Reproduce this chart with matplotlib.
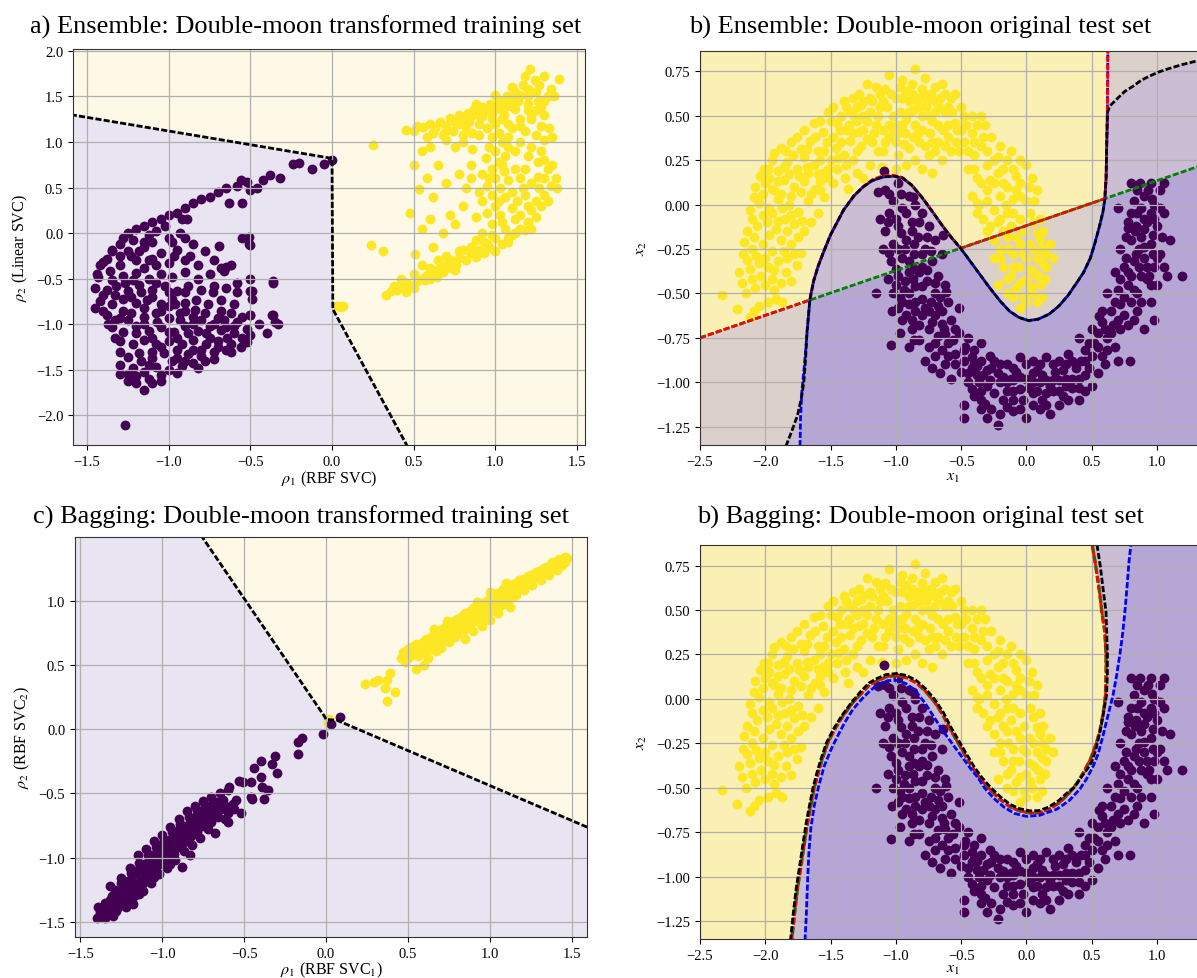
import numpy as np
import matplotlib
matplotlib.use("Agg")
import matplotlib.pyplot as plt
from matplotlib.path import Path
from matplotlib.colors import ListedColormap

# ---------------------------------------------------------------- data
# a) ensemble: transformed training set (rho1 = RBF SVC, rho2 = linear SVC)
a_class0 = [
    (-1.44,-0.45),(-1.42,-0.35),(-1.38,-0.28),(-1.35,-0.2),(-1.3,-0.12),(-1.28,-0.05),(-1.25,0.0),(-1.2,0.04),
    (-1.15,0.08),(-1.1,0.12),(-1.05,0.16),(-1.0,0.2),(-0.95,0.22),(-0.9,0.28),(-0.85,0.33),(-0.8,0.37),
    (-0.75,0.4),(-0.7,0.45),(-0.65,0.5),(-0.58,0.52),(-0.56,0.58),(-0.52,0.56),(-0.5,0.47),(-0.46,0.5),
    (-0.42,0.58),(-0.38,0.64),(-0.32,0.6),(-0.24,0.76),(-0.2,0.77),(-0.12,0.7),(-0.05,0.76),(0.0,0.8),
    (-0.55,0.33),(-0.92,0.15),(-1.02,0.08),(-1.12,-0.02),(-1.22,-0.08),(-1.3,-0.25),(-0.89,0.15),(-0.93,0.0),
    (-0.98,-0.1),(-1.0,-0.05),(-0.9,-0.05),(-1.15,-0.1),(-1.08,0.02),(-0.63,0.33),(-0.69,-0.14),(-0.51,-0.04),
    (-0.51,-0.12),
    (-1.35,-0.18),(-1.25,-0.2),(-1.15,-0.15),(-1.05,-0.22),(-0.95,-0.18),(-0.85,-0.12),(-0.78,-0.2),(-1.1,-0.1),
    (-1.4,-0.32),(-1.3,-0.35),(-1.2,-0.3),(-1.1,-0.28),(-1.0,-0.33),(-0.9,-0.3),(-0.82,-0.35),(-0.72,-0.3),(-1.15,-0.38),
    (-1.43,-0.48),(-1.36,-0.42),(-1.28,-0.47),(-1.2,-0.44),(-1.12,-0.5),(-1.05,-0.45),(-0.98,-0.48),(-0.9,-0.43),
    (-0.82,-0.5),(-0.75,-0.45),(-0.68,-0.38),(-0.66,-0.42),
    (-1.45,-0.6),(-1.38,-0.62),(-1.32,-0.58),(-1.25,-0.63),(-1.18,-0.57),(-1.1,-0.62),(-1.02,-0.58),(-0.95,-0.63),
    (-0.88,-0.58),(-0.8,-0.62),(-0.72,-0.58),(-0.65,-0.6),(-0.58,-0.55),(-0.5,-0.5),(-0.36,-0.53),
    (-1.42,-0.75),(-1.35,-0.78),(-1.28,-0.72),(-1.2,-0.77),(-1.13,-0.73),(-1.05,-0.78),(-0.98,-0.72),(-0.9,-0.77),
    (-0.83,-0.73),(-0.76,-0.78),(-0.68,-0.73),(-0.6,-0.78),(-0.5,-0.64),(-0.49,-0.72),(-1.4,-0.85),
    (-1.38,-0.9),(-1.3,-0.93),(-1.23,-0.88),(-1.15,-0.92),(-1.08,-0.88),(-1.0,-0.93),(-0.93,-0.88),(-0.85,-0.92),
    (-0.78,-0.88),(-0.7,-0.93),(-0.62,-0.88),(-0.55,-0.92),(-0.5,-0.9),(-0.37,-0.9),(-1.45,-0.82),
    (-1.35,-1.03),(-1.28,-1.08),(-1.2,-1.02),(-1.12,-1.07),(-1.05,-1.03),(-0.97,-1.08),(-0.9,-1.02),(-0.82,-1.07),
    (-0.75,-1.02),(-0.68,-1.06),(-0.6,-1.02),(-0.52,-1.05),(-0.45,-1.0),(-0.35,-0.98),(-0.33,-1.0),(-0.5,-1.12),
    (-1.3,-1.18),(-1.22,-1.22),(-1.15,-1.17),(-1.08,-1.22),(-1.0,-1.18),(-0.92,-1.22),(-0.85,-1.17),(-0.77,-1.22),
    (-0.7,-1.18),(-0.62,-1.22),(-0.55,-1.15),(-0.4,-1.1),
    (-1.3,-1.3),(-1.25,-1.36),(-1.18,-1.32),(-1.1,-1.37),(-1.03,-1.32),(-0.95,-1.37),(-0.88,-1.33),(-0.8,-1.35),
    (-0.72,-1.3),(-0.65,-1.28),(-1.3,-1.45),
    (-1.22,-1.48),(-1.15,-1.52),(-1.08,-1.47),(-1.0,-1.5),(-0.92,-1.46),(-0.85,-1.42),(-0.78,-1.4),(-1.25,-1.55),
    (-1.12,-1.6),(-1.05,-1.56),(-0.95,-1.53),
    (-1.2,-1.65),(-1.15,-1.72),(-1.1,-1.65),(-1.25,-1.62),(-1.05,-1.62),
    (-1.25,-0.95),(-1.0,-0.8),(-0.95,-1.15),(-1.1,-1.3),(-0.85,-1.0),(-1.17,-0.65),(-0.75,-1.15),(-1.33,-1.15),
    (-0.68,-0.85),(-1.07,-0.97),(-0.9,-0.65),(-0.8,-1.28),(-1.22,-0.52),(-0.98,-1.4),(-0.6,-1.1),(-0.7,-1.25),
    (-0.62,-0.35),(-0.65,-0.37),(-0.49,-0.63),(-0.5,-0.9),(-0.36,-0.55),(-0.36,-0.9),(-0.5,-0.13),(-0.55,-0.05),
    (-1.33,-0.68),(-1.27,-0.55),(-1.23,-0.7),(-1.15,-0.82),(-1.1,-0.7),(-1.08,-0.55),(-1.0,-0.65),(-0.96,-0.78),
    (-0.93,-0.95),(-0.88,-1.1),(-0.84,-0.84),(-0.8,-0.95),(-0.77,-1.1),(-0.72,-1.0),(-0.66,-0.95),(-0.64,-1.15),
    (-0.58,-0.98),(-0.56,-1.25),(-0.52,-1.2),(-1.2,-1.1),(-1.15,-1.0),(-1.1,-1.15),(-1.05,-1.25),(-1.0,-1.08),
    (-0.95,-1.28),(-0.9,-1.4),(-0.85,-1.28),(-0.82,-1.48),(-1.17,-1.4),(-1.12,-1.45),(-1.2,-1.57),(-1.3,-1.55),
    (-1.23,-0.25),(-1.18,-0.2),(-1.08,-0.35),(-0.97,-0.25),(-0.87,-0.25),(-1.35,-0.52),(-1.4,-0.68),(-1.37,-1.0),
    (-1.28,-0.85),(-1.33,-0.95),(-1.05,-0.85),(-0.9,-0.85),(-0.73,-0.65),(-0.58,-0.65),(-0.62,-1.3),(-0.72,-1.38),
    (-0.65,-1.03),(-1.12,-0.3),
    (-1.27,-2.11),
]
a_class1 = [
    (0.45,1.13),(0.5,1.12),(0.52,1.18),(0.56,1.16),(0.6,1.2),(0.63,1.15),(0.66,1.22),(0.7,1.18),(0.72,1.26),
    (0.75,1.22),(0.78,1.3),(0.8,1.25),(0.83,1.32),(0.85,1.28),(0.87,1.36),(0.9,1.3),(0.92,1.38),(0.95,1.34),
    (0.97,1.42),(1.0,1.38),(1.02,1.46),(1.05,1.42),(1.07,1.5),(1.1,1.46),(1.12,1.55),(1.15,1.52),(1.17,1.62),
    (1.2,1.58),(1.18,1.72),(1.21,1.8),(1.24,1.68),(1.27,1.62),(1.3,1.72),(1.34,1.58),(1.39,1.69),(1.32,1.5),
    (1.36,1.5),(0.74,1.12),(0.82,1.15),(0.9,1.2),(0.98,1.25),(1.05,1.3),(1.12,1.36),(1.2,1.42),(1.26,1.45),
    (0.68,1.08),(0.58,1.05),(0.88,1.42),(1.0,1.52),(1.1,1.6),
    (1.25,1.35),(1.3,1.3),(1.22,1.25),(1.28,1.18),(1.33,1.15),(1.25,1.08),(1.3,1.02),(1.35,1.05),(1.22,0.95),
    (1.28,0.9),(1.2,0.85),(1.26,0.78),(1.32,0.7),(1.37,0.6),(1.34,0.52),(1.38,0.5),(1.3,0.6),(1.27,0.5),
    (1.3,0.42),(1.25,0.35),(1.28,0.3),(1.22,0.25),(1.25,0.18),(1.2,0.12),(1.22,0.05),(1.18,0.03),(1.15,0.2),
    (1.18,0.42),(1.22,0.55),(1.18,0.7),(1.15,1.0),(1.18,1.12),(1.15,1.25),(1.2,1.35),(1.12,0.9),
    (1.0,1.2),(1.02,1.1),(0.98,1.05),(1.04,1.0),(0.96,0.95),(1.0,0.9),(1.06,0.85),(0.94,0.82),(1.02,0.78),
    (0.98,0.7),(1.05,0.68),(0.92,0.65),(1.0,0.6),(1.08,0.58),(0.95,0.52),(1.03,0.5),(0.9,0.45),(0.98,0.42),
    (1.06,0.4),(0.92,0.35),(1.0,0.3),(1.1,0.28),(0.95,0.22),(1.03,0.2),(0.88,0.18),(1.12,0.15),(0.98,0.1),
    (1.06,0.05),(0.92,0.0),(1.0,-0.05),(1.1,-0.02),(0.95,-0.12),(1.08,-0.1),(0.88,-0.08),(1.1,1.15),(1.08,1.05),
    (1.12,0.7),(1.1,0.45),(0.86,0.92),(0.9,1.08),(0.85,0.75),(0.82,0.5),(0.8,0.3),(0.85,0.6),(1.15,0.6),
    (0.33,-0.68),(0.36,-0.64),(0.4,-0.62),(0.43,-0.58),(0.46,-0.55),(0.5,-0.6),(0.52,-0.53),(0.55,-0.5),
    (0.58,-0.46),(0.6,-0.5),(0.63,-0.42),(0.66,-0.38),(0.68,-0.43),(0.7,-0.35),(0.73,-0.3),(0.76,-0.35),
    (0.78,-0.27),(0.82,-0.3),(0.85,-0.22),(0.88,-0.26),(0.9,-0.18),(0.93,-0.22),(0.96,-0.15),(1.0,-0.2),
    (1.04,-0.12),(1.08,-0.05),(1.12,0.0),(1.15,0.05),(0.42,-0.5),(0.5,-0.45),(0.6,-0.38),(0.7,-0.25),
    (0.8,-0.18),(0.75,-0.4),(0.65,-0.3),(0.55,-0.35),(0.45,-0.65),(0.38,-0.58),
    (0.25,0.97),(0.24,-0.13),(0.31,-0.2),(0.03,-0.8),(0.05,-0.81),(0.07,-0.8),(0.5,0.75),(0.53,0.48),
    (0.48,0.22),(0.51,-0.23),(0.58,0.6),(0.62,0.4),(0.65,0.75),(0.7,0.55),(0.72,0.2),(0.6,0.15),(0.68,0.0),
    (0.75,0.95),(0.6,0.95),(0.8,1.0),(0.55,0.9),(0.7,1.02),(0.78,0.65),(0.75,0.1),(0.62,-0.15),(0.55,0.05),
    (0.62,1.1),(0.7,1.12),(0.77,1.2),(0.84,1.22),(0.92,1.28),(0.98,1.32),(1.03,1.36),(1.08,1.4),(1.14,1.45),
    (1.2,1.5),(1.25,1.55),(1.3,1.45),(1.28,1.38),(1.22,1.3),(1.15,1.18),(1.08,1.2),(1.04,1.25),(0.95,1.15),
    (0.86,1.1),(0.8,1.08),(1.3,0.8),(1.35,0.75),(1.32,0.35),(1.26,0.62),(1.2,0.3),(1.17,0.5),(1.13,0.35),
    (1.04,0.12),(0.98,-0.02),(0.93,-0.1),(0.85,-0.15),(0.78,-0.2),(0.72,-0.38),(0.64,-0.48),(0.57,-0.52),
    (0.48,-0.58),(1.02,0.35),(0.96,0.6),(1.04,0.75),(1.08,0.95),
]
a_boundary_x = [-1.65, 0.0, 0.005, 0.48]
a_boundary_y = [1.315, 0.82, -0.835, -2.40]

# c) bagging: transformed training set (rho1 = RBF SVC1, rho2 = RBF SVC2)
c_class0 = [
    (-1.4,-1.47),(-1.39,-1.38),(-1.38,-1.44),(-1.37,-1.46),(-1.36,-1.4),(-1.35,-1.35),(-1.34,-1.44),(-1.33,-1.38),
    (-1.32,-1.22),(-1.31,-1.3),(-1.3,-1.36),(-1.29,-1.25),(-1.28,-1.41),(-1.27,-1.33),(-1.26,-1.27),(-1.25,-1.2),
    (-1.24,-1.33),(-1.23,-1.24),(-1.22,-1.38),(-1.25,-1.16),(-1.21,-1.18),(-1.2,-1.27),(-1.19,-1.12),(-1.18,-1.22),
    (-1.17,-1.3),(-1.2,-1.08),(-1.16,-1.1),(-1.15,-1.2),(-1.14,-1.04),(-1.13,-1.15),(-1.12,-1.26),(-1.15,-0.98),
    (-1.11,-1.05),(-1.1,-1.13),(-1.09,-0.98),(-1.08,-1.09),(-1.07,-1.2),(-1.1,-0.93),(-1.06,-0.98),(-1.05,-1.07),
    (-1.04,-0.92),(-1.03,-1.02),(-1.02,-1.13),(-1.05,-0.87),(-1.01,-0.93),(-1.0,-1.0),(-0.99,-0.86),(-0.98,-0.96),
    (-0.97,-1.08),(-1.0,-0.82),(-0.96,-0.86),(-0.95,-0.95),(-0.94,-0.8),(-0.93,-0.9),(-0.92,-1.02),(-0.95,-0.76),
    (-0.91,-0.8),(-0.9,-0.88),(-0.89,-0.74),(-0.88,-0.84),(-0.87,-0.95),(-0.9,-0.7),(-0.88,-1.07),(-0.86,-0.75),
    (-0.85,-0.83),(-0.84,-0.68),(-0.83,-0.79),(-0.82,-0.9),(-0.85,-0.64),(-0.81,-0.7),(-0.8,-0.77),(-0.79,-0.63),
    (-0.78,-0.73),(-0.77,-0.85),(-0.8,-0.6),(-0.76,-0.65),(-0.75,-0.72),(-0.74,-0.6),(-0.73,-0.68),(-0.72,-0.78),
    (-0.75,-0.56),(-0.71,-0.6),(-0.7,-0.66),(-0.69,-0.56),(-0.68,-0.65),(-0.68,-0.81),(-0.7,-0.53),(-0.66,-0.57),
    (-0.64,-0.62),(-0.63,-0.55),(-0.62,-0.7),(-0.6,-0.72),(-0.65,-0.5),(-0.6,-0.47),(-0.58,-0.6),(-0.57,-0.58),
    (-0.52,-0.65),(-1.32,-1.42),(-1.18,-1.36),(-1.05,-1.15),(-0.95,-1.05),(-0.83,-0.98),(-1.3,-1.45),(-1.35,-1.47),
    (-1.02,-0.9),(-0.9,-0.78),(-0.96,-0.92),
    (-1.38,-1.42),(-1.36,-1.45),(-1.34,-1.36),(-1.32,-1.33),(-1.3,-1.4),(-1.28,-1.3),(-1.27,-1.38),(-1.25,-1.3),
    (-1.24,-1.22),(-1.22,-1.28),(-1.21,-1.33),(-1.19,-1.17),(-1.18,-1.26),(-1.16,-1.22),(-1.15,-1.13),(-1.14,-1.28),
    (-1.13,-1.08),(-1.12,-1.2),(-1.1,-1.07),(-1.09,-1.16),(-1.08,-1.02),(-1.07,-1.12),(-1.06,-1.05),(-1.04,-1.1),
    (-1.03,-0.97),(-1.01,-1.05),(-1.0,-0.9),(-0.99,-1.02),(-0.97,-0.92),(-0.96,-1.0),(-0.94,-0.87),(-0.93,-0.97),
    (-0.91,-0.84),(-0.9,-0.92),(-0.89,-0.8),(-0.87,-0.88),(-0.86,-0.79),(-0.84,-0.86),(-0.83,-0.73),(-0.82,-0.82),
    (-0.8,-0.68),(-0.79,-0.8),(-0.77,-0.67),(-0.76,-0.75),(-0.74,-0.64),(-0.73,-0.74),(-0.71,-0.63),(-0.7,-0.72),
    (-0.67,-0.6),(-0.66,-0.68),(-0.62,-0.6),(-0.6,-0.65),(-0.56,-0.62),(-0.55,-0.55),
    (-0.59,-0.45),(-0.53,-0.4),(-0.51,-0.41),(-0.46,-0.41),(-0.46,-0.53),(-0.44,-0.3),(-0.4,-0.375),(-0.39,-0.45),
    (-0.38,-0.545),(-0.45,-0.545),(-0.355,-0.47),(-0.4,-0.25),(-0.33,-0.27),(-0.31,-0.21),(-0.3,-0.34),
    (-0.17,-0.1),(-0.145,-0.065),(-0.17,-0.195),(-0.016,-0.034),(0.03,0.04),(0.084,0.095),
]
c_class1 = [
    (0.46,0.55),(0.47,0.6),(0.48,0.52),(0.5,0.62),(0.51,0.57),(0.52,0.64),(0.54,0.6),(0.55,0.66),(0.56,0.63),
    (0.57,0.58),(0.59,0.68),(0.6,0.64),(0.61,0.7),(0.62,0.62),(0.64,0.72),(0.65,0.68),(0.66,0.74),(0.67,0.65),
    (0.69,0.76),(0.7,0.72),(0.71,0.78),(0.72,0.69),(0.73,0.8),(0.74,0.75),(0.75,0.82),(0.76,0.78),(0.77,0.73),
    (0.78,0.84),(0.79,0.8),(0.8,0.86),(0.81,0.77),(0.82,0.83),(0.83,0.88),(0.84,0.84),(0.85,0.9),(0.86,0.8),
    (0.87,0.87),(0.88,0.92),(0.89,0.88),(0.9,0.94),(0.91,0.84),(0.92,0.9),(0.93,0.96),(0.94,0.92),(0.95,0.98),
    (0.96,0.88),(0.97,0.95),(0.98,1.0),(0.99,0.96),(1.0,1.02),(1.01,0.92),(1.02,0.99),(1.03,1.05),(1.04,1.0),
    (1.05,1.06),(1.06,0.96),(1.07,1.03),(1.08,1.09),(1.09,1.05),(1.1,1.1),(1.11,1.0),(1.12,1.07),(1.13,1.12),
    (1.14,1.08),(1.15,1.13),(1.16,1.04),(1.17,1.11),(1.18,1.16),(1.19,1.12),(1.2,1.17),(1.21,1.08),(1.22,1.14),
    (1.23,1.19),(1.24,1.16),(1.25,1.2),(1.26,1.12),(1.27,1.18),(1.28,1.22),(1.29,1.19),(1.3,1.23),(1.31,1.16),
    (1.32,1.21),(1.33,1.25),(1.34,1.23),(1.35,1.26),(1.36,1.2),(1.37,1.25),(1.38,1.28),(1.39,1.27),(1.4,1.3),
    (1.41,1.24),(1.42,1.29),(1.43,1.31),(1.44,1.31),(1.45,1.33),(1.46,1.34),(1.47,1.33),(1.46,1.3),
    (0.55,0.47),(0.6,0.5),(0.67,0.61),(0.79,0.72),(0.9,0.76),(0.85,0.7),(0.95,0.8),(1.0,0.85),(1.05,0.9),
    (1.12,0.95),(0.75,0.68),(0.7,0.63),(0.62,0.55),
    (0.5,0.55),(0.53,0.6),(0.56,0.57),(0.58,0.64),(0.6,0.6),(0.63,0.66),(0.65,0.62),(0.68,0.7),(0.7,0.68),
    (0.72,0.74),(0.75,0.71),(0.77,0.78),(0.8,0.74),(0.82,0.8),(0.84,0.77),(0.86,0.84),(0.88,0.82),(0.9,0.87),
    (0.92,0.85),(0.94,0.9),(0.96,0.92),(0.98,0.93),(1.0,0.96),(1.02,0.95),(1.04,1.03),(1.06,1.0),(1.08,1.05),
    (1.1,1.03),(1.12,1.1),(1.14,1.1),(1.16,1.14),(1.18,1.1),(1.2,1.14),(1.22,1.17),(1.24,1.14),(1.26,1.2),
    (1.28,1.19),(1.3,1.2),(1.32,1.24),(1.34,1.26),(1.36,1.24),(1.38,1.3),(1.4,1.27),(1.42,1.32),(1.44,1.28),
    (0.66,0.78),(0.74,0.84),(0.92,0.99),(1.0,1.07),(1.1,1.14),(0.98,0.86),(1.04,0.92),(1.08,0.97),(1.15,1.03),
    (0.24,0.35),(0.29,0.37),(0.32,0.38),(0.36,0.32),(0.37,0.38),(0.39,0.44),(0.37,0.22),(0.42,0.29),
    (0.01,0.05),(0.02,0.08),
]
c_boundary_x = [-0.765, -0.01, 0.0, 0.065, 1.62]
c_boundary_y = [1.51, 0.10, 0.075, 0.07, -0.776]

# b) and d): double-moon original test set (x1, x2)
test_class0 = [
    (-1.08,0.08),(-0.98,0.12),(-0.9,0.05),(-0.85,0.0),(-0.95,-0.02),(-1.05,-0.05),(-1.12,-0.08),(-0.8,-0.05),
    (-0.88,-0.1),(-0.98,-0.12),(-1.08,-0.15),(-0.75,-0.12),(-0.83,-0.18),(-0.92,-0.2),(-1.02,-0.22),(-1.1,-0.25),
    (-0.7,-0.2),(-0.78,-0.25),(-0.86,-0.28),(-0.95,-0.3),(-1.04,-0.32),(-0.72,-0.32),(-0.8,-0.35),(-0.9,-0.38),
    (-0.98,-0.4),(-1.06,-0.42),(-0.65,-0.28),(-0.68,-0.4),(-0.76,-0.43),(-0.85,-0.46),(-0.94,-0.48),(-1.02,-0.5),
    (-1.15,-0.5),(-0.62,-0.45),(-0.7,-0.5),(-0.8,-0.53),(-0.9,-0.56),(-0.98,-0.58),(-0.6,-0.55),(-0.88,-0.15),
    (-0.96,0.06),(-0.82,-0.38),(-0.64,-0.17),(-0.615,-0.49),(-1.09,0.19),(-1.14,0.07),(-1.05,0.06),(-0.87,0.04),
    (-0.95,-0.65),(-0.88,-0.7),(-0.8,-0.62),(-0.72,-0.66),(-0.65,-0.6),(-0.58,-0.65),(-0.52,-0.58),(-0.9,-0.8),
    (-0.82,-0.76),(-0.75,-0.8),(-0.68,-0.74),(-0.6,-0.78),(-0.52,-0.72),(-0.45,-0.75),(-0.78,-0.88),(-0.7,-0.85),
    (-0.62,-0.9),(-0.55,-0.84),(-0.48,-0.88),(-0.4,-0.82),(-0.35,-0.78),(-0.97,-0.72),(-0.85,-0.6),(-0.66,-0.95),
    (-0.58,-0.98),(-0.5,-0.94),(-0.42,-0.92),(-0.35,-0.88),(-0.28,-0.85),(-1.04,-0.79),
    (-0.45,-1.0),(-0.38,-0.96),(-0.3,-1.02),(-0.22,-0.95),(-0.15,-1.0),(-0.08,-0.94),(0.0,-0.98),(0.08,-0.93),
    (0.15,-0.99),(0.22,-0.94),(0.3,-0.98),(0.38,-0.92),(0.45,-0.96),(-0.4,-1.08),(-0.32,-1.12),(-0.25,-1.06),
    (-0.18,-1.1),(-0.1,-1.05),(-0.03,-1.1),(0.05,-1.06),(0.12,-1.1),(0.2,-1.05),(0.28,-1.08),(0.35,-1.03),
    (-0.2,-1.18),(-0.1,-1.16),(0.0,-1.2),(0.1,-1.15),(0.18,-1.18),(-0.3,-1.2),(-0.22,-1.24),(-0.48,-1.13),
    (0.4,-1.1),(-0.25,-0.88),(-0.15,-0.9),(-0.05,-0.86),(0.05,-0.88),(0.15,-0.86),(0.25,-0.88),(0.32,-0.84),
    (-0.36,-1.0),(-0.12,-0.98),(0.1,-1.0),(0.35,-0.98),(0.5,-1.02),(0.55,-0.95),(-0.48,-1.2),
    (0.45,-0.82),(0.52,-0.78),(0.58,-0.85),(0.62,-0.75),(0.68,-0.8),(0.72,-0.7),(0.4,-0.75),(0.5,-0.7),
    (0.58,-0.66),(0.65,-0.6),(0.75,-0.62),(0.8,-0.55),(0.62,-0.5),(0.7,-0.48),(0.78,-0.45),(0.85,-0.5),
    (0.92,-0.42),(0.68,-0.38),(0.75,-0.35),(0.82,-0.32),(0.9,-0.3),(0.98,-0.35),(0.72,-0.25),(0.8,-0.2),
    (0.88,-0.18),(0.95,-0.22),(1.02,-0.28),(0.78,-0.1),(0.85,-0.05),(0.92,-0.1),(1.0,-0.12),(1.05,-0.05),
    (0.82,0.02),(0.9,0.05),(0.98,0.0),(1.02,0.08),(0.95,0.12),(0.8,0.12),(0.88,-0.4),(0.95,-0.55),
    (1.0,-0.45),(1.08,-0.4),(1.1,-0.2),(0.6,-0.9),(0.7,-0.88),(0.82,-0.65),(0.9,-0.7),(0.556,-0.625),
    (0.7,-0.02),(0.775,-0.13),(1.19,-0.4),(0.79,-0.88),(0.98,-0.65),(1.05,0.12),
    (-1.0,-0.08),(-0.93,-0.25),(-0.87,-0.42),(-0.78,-0.58),(-0.7,-0.62),(-0.63,-0.7),(-0.56,-0.76),(-0.47,-0.8),
    (-0.4,-0.9),(-0.3,-0.93),(-0.2,-1.0),(-0.1,-0.99),(0.02,-1.03),(0.12,-0.96),(0.2,-0.99),(0.3,-0.9),
    (0.42,-0.88),(0.48,-0.78),(0.55,-0.72),(0.66,-0.68),(0.72,-0.56),(0.78,-0.38),(0.86,-0.25),(0.9,-0.08),
    (0.96,0.03),(0.84,-0.12),(0.94,-0.4),(1.0,-0.3),(-1.03,-0.6),(-0.95,-0.55),(-0.88,-0.65),(-0.6,-0.85),
    (-0.45,-0.95),(-0.35,-1.05),(0.25,-1.13),(0.3,-1.02),(0.05,-0.95),(-0.1,-1.1),(0.45,-1.05),(0.58,-0.6),
    (-1.02,0.02),(-0.92,-0.05),(-0.82,-0.1),(-1.06,-0.1),(-0.96,-0.16),(-0.86,-0.22),(-0.76,-0.18),(-1.05,-0.27),
    (-0.98,-0.25),(-0.9,-0.32),(-0.8,-0.28),(-0.73,-0.26),(-1.0,-0.36),(-0.93,-0.43),(-0.86,-0.36),(-0.76,-0.37),
    (-0.7,-0.44),(-1.0,-0.45),(-0.9,-0.5),(-0.8,-0.46),(-0.73,-0.55),(-0.66,-0.52),(-0.97,-0.52),(-0.85,-0.55),
    (-0.75,-0.6),(-0.68,-0.57),(-0.92,-0.62),(-0.82,-0.68),(-0.75,-0.7),(-0.65,-0.67),(-0.86,-0.76),(-0.7,-0.78),
    (-0.62,-0.73),(-0.55,-0.7),(-0.72,-0.92),(-0.65,-0.82),(-0.55,-0.9),(-0.48,-0.82),(-0.42,-0.86),(-0.38,-0.91),
    (-0.33,-0.96),(-0.27,-0.92),(-0.2,-0.9),(-0.1,-0.92),(0.0,-0.9),(0.1,-0.9),(0.2,-0.9),(0.28,-0.93),
    (0.4,-0.98),(0.48,-0.92),(-0.28,-0.99),(-0.18,-0.97),(-0.05,-0.97),(0.05,-1.0),(0.18,-1.02),(0.25,-0.99),
    (0.4,-1.03),(-0.35,-1.1),(-0.27,-1.15),(-0.15,-1.05),(-0.05,-1.04),(0.08,-1.05),(0.15,-1.06),(0.25,-1.05),
    (0.32,-1.1),(-0.15,-1.14),(-0.05,-1.15),(0.05,-1.13),(0.15,-1.13),(-0.35,-1.15),(-0.42,-1.04),(0.45,-0.88),
    (0.35,-0.88),(0.5,-0.85),
    (0.55,-0.8),(0.62,-0.82),(0.65,-0.72),(0.7,-0.65),(0.78,-0.68),(0.6,-0.7),(0.68,-0.55),(0.75,-0.52),
    (0.82,-0.48),(0.88,-0.55),(0.72,-0.42),(0.8,-0.4),(0.86,-0.35),(0.92,-0.35),(0.76,-0.3),(0.84,-0.28),
    (0.9,-0.24),(0.97,-0.28),(0.76,-0.18),(0.83,-0.15),(0.9,-0.14),(0.97,-0.17),(1.04,-0.18),(0.8,-0.05),
    (0.88,-0.02),(0.95,-0.05),(1.02,-0.02),(0.85,0.08),(0.93,0.08),(0.87,0.12),(0.98,-0.08),(0.95,-0.45),
    (0.85,-0.6),(1.05,-0.35),
]
test_class1 = [
    (-2.33,-0.51),(-2.22,-0.59),(-2.12,-0.63),(-2.09,-0.6),(-2.05,-0.57),(-1.98,-0.55),(-1.92,-0.53),(-1.87,-0.55),
    (-2.15,-0.5),(-2.08,-0.47),(-2.0,-0.45),(-1.95,-0.42),(-1.88,-0.44),(-1.8,-0.43),(-2.2,-0.38),(-2.12,-0.36),
    (-2.05,-0.33),(-1.98,-0.35),(-1.9,-0.32),(-1.83,-0.3),(-1.76,-0.34),(-2.17,-0.28),(-2.1,-0.25),(-2.02,-0.22),
    (-1.95,-0.26),(-1.88,-0.2),(-1.8,-0.22),(-1.73,-0.27),(-2.14,-0.15),(-2.06,-0.12),(-1.99,-0.1),(-1.92,-0.14),
    (-1.85,-0.08),(-1.78,-0.11),(-1.7,-0.15),(-2.12,-0.03),(-2.05,0.01),(-1.97,-0.02),(-1.9,0.03),(-1.82,0.0),
    (-1.75,-0.04),(-1.67,0.02),(-1.6,-0.05),(-2.08,0.1),(-2.0,0.12),(-1.93,0.08),(-1.86,0.14),(-1.78,0.1),
    (-1.7,0.13),(-1.62,0.09),(-1.55,0.04),
    (-2.01,0.2),(-1.95,0.25),(-1.9,0.19),(-1.83,0.24),(-1.76,0.2),(-1.7,0.27),(-1.63,0.22),(-1.56,0.18),
    (-1.5,0.25),(-1.45,0.2),(-1.88,0.32),(-1.8,0.35),(-1.73,0.31),(-1.66,0.36),(-1.6,0.3),(-1.53,0.35),
    (-1.46,0.32),(-1.4,0.28),(-1.35,0.36),(-1.3,0.3),(-1.7,0.42),(-1.63,0.46),(-1.56,0.41),(-1.5,0.47),
    (-1.43,0.42),(-1.36,0.45),(-1.28,0.41),(-1.22,0.37),(-1.95,0.09),(-1.58,0.13),(-1.48,0.12),(-1.39,0.15),
    (-1.3,0.18),(-1.37,0.09),(-1.25,0.15),(-1.2,0.22),
    (-1.3,0.55),(-1.25,0.5),(-1.2,0.6),(-1.15,0.45),(-1.12,0.55),(-1.08,0.65),(-1.05,0.73),(-1.02,0.5),
    (-0.98,0.4),(-0.95,0.6),(-0.92,0.48),(-0.88,0.68),(-0.85,0.76),(-0.82,0.55),(-0.8,0.42),(-0.78,0.62),
    (-0.75,0.5),(-0.72,0.35),(-0.7,0.58),(-0.68,0.45),(-0.65,0.68),(-0.62,0.52),(-0.6,0.38),(-0.58,0.6),
    (-0.55,0.46),(-0.52,0.3),(-0.5,0.55),(-1.18,0.35),(-1.1,0.3),(-1.05,0.38),(-0.98,0.28),(-0.9,0.32),
    (-0.85,0.25),(-0.75,0.28),(-0.65,0.25),(-1.28,0.62),(-1.22,0.68),(-1.15,0.66),(-1.1,0.42),(-1.0,0.6),
    (-0.95,0.7),(-0.9,0.58),(-0.85,0.45),(-0.8,0.65),(-0.72,0.47),(-0.62,0.62),(-0.57,0.52),(-0.53,0.42),
    (-1.35,0.52),(-1.4,0.58),(-1.42,0.5),(-1.33,0.6),(-1.48,0.55),(-1.2,0.52),(-1.12,0.62),(-1.07,0.55),
    (-0.97,0.52),(-0.87,0.53),(-0.77,0.55),(-0.67,0.55),(-1.25,0.42),(-1.3,0.47),(-0.7,0.66),(-0.78,0.71),
    (-0.95,0.45),(-0.82,0.35),(-0.6,0.45),(-1.0,0.2),(-0.92,0.22),(-0.8,0.2),(-0.72,0.18),(-1.11,0.21),
    (-0.48,0.35),(-0.42,0.4),(-0.4,0.28),(-0.35,0.33),(-0.3,0.22),(-0.27,0.38),(-0.22,0.27),(-0.18,0.2),
    (-0.12,0.3),(-0.08,0.16),(-0.45,0.2),(-0.38,0.15),(-0.32,0.45),(-0.25,0.12),(-0.15,0.1),(0.0,0.22),
    (0.04,0.15),(-0.05,0.25),(-0.42,0.5),(-0.35,0.5),(-0.46,0.45),(-0.42,0.05),(-0.36,0.0),(-0.3,0.08),
    (-0.25,-0.03),(-0.2,0.05),(-0.15,-0.05),(-0.1,0.03),(-0.05,-0.08),(0.0,0.02),(0.03,-0.05),(-0.33,-0.08),
    (-0.22,-0.1),(-0.12,-0.12),(-0.02,-0.15),(0.05,-0.1),(-0.28,0.14),(-0.18,0.12),(-0.08,0.08),(-0.38,0.01),
    (-0.25,-0.2),(-0.2,-0.25),(-0.15,-0.18),(-0.1,-0.28),(-0.05,-0.22),(0.0,-0.3),(0.05,-0.25),(0.1,-0.2),
    (0.15,-0.28),(0.18,-0.22),(-0.18,-0.35),(-0.12,-0.4),(-0.06,-0.35),(0.0,-0.42),(0.06,-0.38),(0.12,-0.33),
    (-0.22,-0.45),(-0.15,-0.5),(-0.08,-0.47),(-0.02,-0.52),(0.04,-0.5),(0.1,-0.45),(0.08,-0.55),(-0.05,-0.58),
    (-0.25,-0.3),(-0.3,-0.15),(0.2,-0.3),(0.08,0.08),(0.1,-0.08),(0.13,-0.15),
    (-2.18,-0.44),(-2.1,-0.42),(-2.03,-0.4),(-1.93,-0.48),(-1.84,-0.38),(-2.14,-0.31),(-2.07,-0.29),(-2.0,-0.3),
    (-1.93,-0.37),(-1.86,-0.26),(-1.78,-0.28),(-2.16,-0.21),(-2.09,-0.18),(-1.97,-0.17),(-1.9,-0.09),(-1.83,-0.15),
    (-1.75,-0.18),(-2.1,-0.08),(-2.02,-0.06),(-1.95,-0.05),(-1.87,-0.02),(-1.8,-0.06),(-1.72,-0.09),(-1.65,-0.1),
    (-2.09,0.04),(-2.02,0.06),(-1.88,0.06),(-1.8,0.05),(-1.73,0.07),(-1.65,0.06),(-1.58,0.08),(-2.04,0.16),
    (-1.97,0.15),(-1.9,0.13),(-1.82,0.17),(-1.74,0.16),(-1.67,0.18),(-1.6,0.17),(-1.52,0.15),(-1.98,0.2),
    (-1.86,0.21),(-1.79,0.28),(-1.68,0.21),(-1.58,0.25),(-1.93,0.29),(-1.84,0.3),(-1.76,0.38),(-1.68,0.31),
    (-1.62,0.38),(-1.55,0.3),(-1.48,0.38),(-1.42,0.35),(-1.38,0.22),(-1.33,0.25),(-1.27,0.33),(-1.52,0.2),
    (-1.44,0.26),
    (-1.38,0.42),(-1.33,0.4),(-1.45,0.46),(-1.52,0.52),(-1.58,0.47),(-1.38,0.55),(-1.27,0.56),(-1.22,0.47),
    (-1.17,0.4),(-1.14,0.5),(-1.1,0.58),(-1.05,0.45),(-1.04,0.62),(-1.0,0.35),(-0.99,0.45),(-0.97,0.66),
    (-0.93,0.4),(-0.9,0.52),(-0.88,0.62),(-0.84,0.58),(-0.83,0.4),(-0.8,0.5),(-0.76,0.58),(-0.74,0.4),
    (-0.73,0.62),(-0.7,0.52),(-0.68,0.35),(-0.66,0.6),(-0.64,0.42),(-0.6,0.55),(-0.58,0.3),(-0.55,0.62),
    (-0.54,0.35),(-0.5,0.42),(-0.48,0.5),(-1.14,0.3),(-1.08,0.35),(-1.02,0.42),(-0.94,0.34),(-0.87,0.38),
    (-0.78,0.33),(-0.7,0.3),(-0.62,0.33),(-1.18,0.58),(-1.25,0.58),(-1.32,0.5),(-0.92,0.64),(-0.82,0.6),
    (-0.45,0.3),(-0.4,0.35),(-0.38,0.45),(-0.33,0.38),(-0.3,0.3),(-0.25,0.25),(-0.2,0.33),(-0.15,0.25),
    (-0.1,0.2),(-0.05,0.12),(-0.4,0.2),(-0.35,0.12),(-0.3,0.02),(-0.22,0.18),(-0.16,0.0),(-0.1,-0.05),
    (-0.05,0.05),(0.02,0.1),(-0.28,-0.12),(-0.18,-0.15),(-0.08,-0.18),(0.02,-0.22),(0.08,-0.16),(0.12,-0.25),
    (-0.2,-0.3),(-0.14,-0.25),(-0.03,-0.28),(0.08,-0.3),(0.15,-0.35),(-0.1,-0.35),(0.02,-0.36),(0.09,-0.4),
    (-0.15,-0.42),(-0.05,-0.44),(0.03,-0.46),(-0.1,-0.52),(0.0,-0.55),(0.12,-0.52),(0.14,-0.42),(-0.2,-0.08),
    (-0.38,-0.05),(0.06,0.02),
]

# b) decision boundaries (ensemble)
b_rbf_x = [-1.734,-1.73,-1.72,-1.70,-1.68,-1.658,-1.63,-1.594,-1.55,-1.50,-1.45,-1.40,-1.32,-1.25,-1.18,-1.10,
           -1.02,-0.95,-0.88,-0.80,-0.72,-0.643,-0.57,-0.50,-0.43,-0.35,-0.28,-0.205,-0.13,-0.058,0.015,0.09,
           0.175,0.25,0.32,0.385,0.438,0.49,0.526,0.56,0.585,0.60,0.61,0.614,0.618,0.62,0.622,0.623]
b_rbf_y = [-1.36,-1.2,-1.05,-0.9,-0.72,-0.531,-0.43,-0.344,-0.26,-0.17,-0.1,-0.03,0.05,0.1,0.135,0.155,
           0.16,0.15,0.11,0.04,-0.04,-0.12,-0.19,-0.25,-0.32,-0.40,-0.47,-0.54,-0.6,-0.635,-0.653,-0.645,
           -0.616,-0.57,-0.51,-0.44,-0.381,-0.3,-0.212,-0.12,-0.044,0.03,0.15,0.313,0.45,0.557,0.7,0.87]
b_linear_x = [-2.5, 1.6]
b_linear_y = [-0.75, 0.286]
b_ens_x = [-1.842,-1.80,-1.754,-1.725,-1.705,-1.69,-1.681,-1.658,-1.63,-1.594,-1.55,-1.50,-1.45,-1.40,-1.32,
           -1.25,-1.18,-1.10,-1.02,-0.95,-0.88,-0.80,-0.72,-0.643,-0.57,-0.50,-0.43,-0.35,-0.28,-0.205,-0.13,
           -0.058,0.015,0.09,0.175,0.25,0.32,0.385,0.438,0.49,0.526,0.56,0.585,0.60,0.61,0.614,0.618,0.621,
           0.639,0.69,0.75,0.818,0.88,0.946,1.01,1.073,1.14,1.2,1.306,1.4,1.5]
b_ens_y = [-1.36,-1.28,-1.188,-1.094,-1.0,-0.85,-0.719,-0.531,-0.43,-0.344,-0.26,-0.17,-0.1,-0.03,0.05,
           0.1,0.135,0.155,0.16,0.15,0.11,0.04,-0.04,-0.12,-0.19,-0.25,-0.32,-0.40,-0.47,-0.54,-0.6,
           -0.635,-0.653,-0.645,-0.616,-0.57,-0.51,-0.44,-0.381,-0.3,-0.212,-0.12,-0.044,0.03,0.15,0.313,0.45,0.52,
           0.555,0.592,0.635,0.667,0.70,0.724,0.745,0.761,0.776,0.789,0.808,0.822,0.835]
b_red_x = [-2.5,-1.658,-1.63,-1.594,-1.55,-1.50,-1.45,-1.40,-1.32,-1.25,-1.18,-1.10,-1.02,-0.95,-0.88,-0.80,
           -0.72,-0.643,-0.57,-0.50,0.60,0.61,0.614,0.618,0.62,0.622,0.623]
b_red_y = [-0.75,-0.537,-0.43,-0.344,-0.26,-0.17,-0.1,-0.03,0.05,0.1,0.14,0.162,0.165,0.152,0.11,0.04,
           -0.04,-0.12,-0.19,-0.245,0.033,0.15,0.313,0.45,0.557,0.7,0.87]

# d) decision boundaries (bagging)
d_red_x = [-1.798,-1.775,-1.754,-1.725,-1.696,-1.675,-1.652,-1.625,-1.594,-1.56,-1.52,-1.46,-1.404,-1.33,
           -1.257,-1.2,-1.14,-1.07,-0.994,-0.92,-0.848,-0.775,-0.702,-0.64,-0.585,-0.525,-0.468,-0.41,-0.351,
           -0.28,-0.205,-0.13,-0.058,0.029,0.1,0.175,0.25,0.321,0.386,0.44,0.49,0.53,0.563,0.59,0.605,0.61,
           0.609,0.6,0.577,0.56,0.53,0.503]
d_red_y = [-1.36,-1.2,-1.07,-0.93,-0.788,-0.69,-0.601,-0.5,-0.413,-0.33,-0.244,-0.16,-0.094,-0.02,0.037,
           0.08,0.103,0.125,0.131,0.12,0.093,0.045,-0.019,-0.09,-0.169,-0.245,-0.319,-0.39,-0.451,-0.51,
           -0.563,-0.605,-0.629,-0.642,-0.64,-0.62,-0.585,-0.535,-0.475,-0.41,-0.34,-0.26,-0.18,-0.07,0.02,
           0.15,0.254,0.38,0.491,0.6,0.75,0.87]
d_black_x = [-1.807,-1.785,-1.764,-1.735,-1.706,-1.685,-1.662,-1.635,-1.604,-1.57,-1.53,-1.47,-1.414,-1.34,
             -1.265,-1.205,-1.145,-1.075,-0.995,-0.92,-0.846,-0.772,-0.698,-0.635,-0.58,-0.52,-0.462,-0.404,
             -0.345,-0.275,-0.2,-0.126,-0.056,0.029,0.1,0.172,0.245,0.31,0.364,0.42,0.47,0.50,0.53,0.556,0.585,
             0.613,0.62,0.62,0.609,0.59,0.565,0.54]
d_black_y = [-1.36,-1.2,-1.07,-0.93,-0.788,-0.69,-0.601,-0.5,-0.413,-0.33,-0.244,-0.16,-0.094,-0.02,0.045,
             0.09,0.115,0.137,0.143,0.132,0.105,0.057,-0.007,-0.078,-0.157,-0.233,-0.307,-0.378,-0.439,-0.498,
             -0.551,-0.593,-0.617,-0.63,-0.628,-0.608,-0.573,-0.53,-0.5,-0.44,-0.39,-0.354,-0.29,-0.207,-0.1,
             0.018,0.15,0.254,0.491,0.6,0.75,0.87]
d_blue_x = [-1.696,-1.685,-1.675,-1.665,-1.65,-1.625,-1.594,-1.55,-1.5,-1.447,-1.39,-1.33,-1.26,-1.2,-1.13,
            -1.06,-0.99,-0.92,-0.85,-0.78,-0.71,-0.64,-0.57,-0.5,-0.43,-0.37,-0.322,-0.25,-0.17,-0.09,0.0,0.1,
            0.234,0.33,0.409,0.46,0.51,0.549,0.586,0.625,0.662,0.69,0.716,0.737,0.754,0.77,0.785,0.80]
d_blue_y = [-1.36,-1.2,-1.0,-0.85,-0.72,-0.6,-0.5,-0.38,-0.29,-0.21,-0.13,-0.06,0.0,0.045,0.085,0.103,0.105,
            0.085,0.045,-0.02,-0.1,-0.18,-0.25,-0.32,-0.39,-0.445,-0.5,-0.56,-0.61,-0.645,-0.661,-0.655,-0.62,
            -0.57,-0.507,-0.45,-0.38,-0.31,-0.207,-0.09,0.018,0.13,0.254,0.37,0.491,0.63,0.77,0.87]

titles = ['a) Ensemble: Double-moon transformed training set',
          'b) Ensemble: Double-moon original test set',
          'c) Bagging: Double-moon transformed training set',
          'b) Bagging: Double-moon original test set']

# ---------------------------------------------------------------- style
plt.rcParams['font.family'] = ['Liberation Serif', 'DejaVu Serif']
plt.rcParams['mathtext.fontset'] = 'stix'
plt.rcParams['axes.unicode_minus'] = True

PURPLE = '#440154'
YELLOW = '#fde725'
BG_P = '#e8e4f1'
BG_Y = '#fdf9e6'
VOTE_COLORS = ['#b6a6d5', '#cbbdd3', '#dcd0cb', '#faf0b4']
DASH = (0, (2.2, 0.8))
LW = 2.0
TICK_FS = 10.5
LABEL_FS = 11.5
TITLE_FS = 19
S = 50

W, H = 1197, 979
fig = plt.figure(figsize=(W / 100, H / 100), dpi=100)


def make_axes(l, t, r, b):
    return fig.add_axes([l / W, 1 - b / H, (r - l) / W, (b - t) / H])


def scatter_classes(ax, c0, c1):
    p0 = np.array(c0)
    p1 = np.array(c1)
    ax.scatter(p1[:, 0], p1[:, 1], s=S, c=YELLOW, linewidths=0, zorder=1)
    ax.scatter(p0[:, 0], p0[:, 1], s=S, c=PURPLE, linewidths=0, zorder=1)


def style_axes(ax, xlim, ylim, xticks, yticks, xlabel, ylabel, xpad=0.5):
    ax.set_xlim(*xlim)
    ax.set_ylim(*ylim)
    ax.set_xticks(xticks)
    ax.set_yticks(yticks)
    ax.tick_params(labelsize=TICK_FS)
    ax.grid(True, color='#b0b0b0', linewidth=0.9)
    ax.set_xlabel(xlabel, fontsize=LABEL_FS, labelpad=xpad)
    ax.set_ylabel(ylabel, fontsize=LABEL_FS, labelpad=5)
    for sp in ax.spines.values():
        sp.set_color('#333333')


def two_region(ax, bx, by, corner):
    pts = list(zip(bx, by))
    poly = pts + corner
    ax.fill([p[0] for p in poly], [p[1] for p in poly], color=BG_Y, lw=0, zorder=0)
    ax.plot(bx, by, color='black', lw=LW, ls=DASH, zorder=2)


def side_mask(cx, cy, P):
    verts = list(zip(cx, cy)) + [(cx[-1], 10.0), (-10.0, 10.0), (-10.0, -10.0), (cx[0], -10.0), (cx[0], cy[0])]
    return Path(verts).contains_points(P)


def vote_image(ax, xlim, ylim, masks_fn):
    xs = np.linspace(xlim[0], xlim[1], 1100)
    ys = np.linspace(ylim[0], ylim[1], 700)
    X, Y = np.meshgrid(xs, ys)
    P = np.column_stack([X.ravel(), Y.ravel()])
    votes = masks_fn(X, Y, P).reshape(X.shape)
    ax.imshow(votes, origin='lower', extent=[xlim[0], xlim[1], ylim[0], ylim[1]],
              cmap=ListedColormap(VOTE_COLORS), vmin=-0.5, vmax=3.5,
              interpolation='nearest', aspect='auto', zorder=0)


# ---------------------------------------------------------------- panel a
ax_a = make_axes(73, 50, 585, 446)
ax_a.set_facecolor(BG_P)
two_region(ax_a, a_boundary_x, a_boundary_y, [(2.0, -2.40), (2.0, 2.5), (-1.65, 2.5)])
scatter_classes(ax_a, a_class0, a_class1)
style_axes(ax_a, (-1.586, 1.549), (-2.325, 2.02),
           [-1.5, -1.0, -0.5, 0.0, 0.5, 1.0, 1.5],
           [-2.0, -1.5, -1.0, -0.5, 0.0, 0.5, 1.0, 1.5, 2.0],
           r'$\rho_1$ (RBF SVC)', r'$\rho_2$ (Linear SVC)')

# ---------------------------------------------------------------- panel c
ax_c = make_axes(75, 538, 587, 938)
ax_c.set_facecolor(BG_P)
two_region(ax_c, c_boundary_x, c_boundary_y, [(1.62, 2.0), (-0.765, 2.0)])
scatter_classes(ax_c, c_class0, c_class1)
style_axes(ax_c, (-1.533, 1.593), (-1.616, 1.494),
           [-1.5, -1.0, -0.5, 0.0, 0.5, 1.0, 1.5],
           [-1.5, -1.0, -0.5, 0.0, 0.5, 1.0],
           r'$\rho_1$ (RBF SVC$_1$)', r'$\rho_2$ (RBF SVC$_2$)', xpad=0.0)

XT_BD = [-2.5, -2.0, -1.5, -1.0, -0.5, 0.0, 0.5, 1.0]
YT_BD = [-1.25, -1.0, -0.75, -0.5, -0.25, 0.0, 0.25, 0.5, 0.75]

# ---------------------------------------------------------------- panel b
ax_b = make_axes(700, 52, 1206, 446)
xlim_b, ylim_b = (-2.5, 1.375), (-1.353, 0.864)


def votes_b(X, Y, P):
    rbf = side_mask(b_rbf_x, b_rbf_y, P)
    ens = side_mask(b_ens_x, b_ens_y, P)
    lin = (Y > np.interp(X, b_linear_x, b_linear_y)).ravel()
    return rbf.astype(int) + ens.astype(int) + lin.astype(int)


vote_image(ax_b, xlim_b, ylim_b, votes_b)
scatter_classes(ax_b, test_class0, test_class1)
ax_b.plot(b_linear_x, b_linear_y, color='green', lw=LW, ls=DASH, zorder=2)
ax_b.plot(b_rbf_x, b_rbf_y, color='blue', lw=LW, ls=DASH, zorder=2)
ax_b.plot(b_red_x, b_red_y, color='red', lw=LW, ls=DASH, zorder=2)
ax_b.plot(b_ens_x, b_ens_y, color='black', lw=LW, ls=DASH, zorder=2)
style_axes(ax_b, xlim_b, ylim_b, XT_BD, YT_BD, r'$x_1$', r'$x_2$')

# ---------------------------------------------------------------- panel d
ax_d = make_axes(700, 546, 1206, 940)
xlim_d, ylim_d = (-2.5, 1.375), (-1.351, 0.866)


def votes_d(X, Y, P):
    red = side_mask(d_red_x, d_red_y, P)
    blue = side_mask(d_blue_x, d_blue_y, P)
    return 2 * red.astype(int) + blue.astype(int)


vote_image(ax_d, xlim_d, ylim_d, votes_d)
scatter_classes(ax_d, test_class0, test_class1)
ax_d.plot(d_red_x, d_red_y, color='green', lw=LW + 0.4, ls=(1.2, (2.2, 0.8)), zorder=2)
ax_d.plot(d_red_x, d_red_y, color='red', lw=LW, ls=DASH, zorder=2)
ax_d.plot(d_blue_x, d_blue_y, color='blue', lw=LW, ls=DASH, zorder=2)
ax_d.plot(d_black_x, d_black_y, color='black', lw=LW, ls=DASH, zorder=2)
style_axes(ax_d, xlim_d, ylim_d, XT_BD, YT_BD, r'$x_1$', r'$x_2$', xpad=-1.5)

# ---------------------------------------------------------------- titles
for txt, (cx, cy) in zip(titles, [(306, 34), (920, 34), (301, 524), (920, 524)]):
    fig.text(cx / W, 1 - cy / H, txt, ha='center', va='baseline', fontsize=TITLE_FS)

fig.savefig('out.png', dpi=100)
